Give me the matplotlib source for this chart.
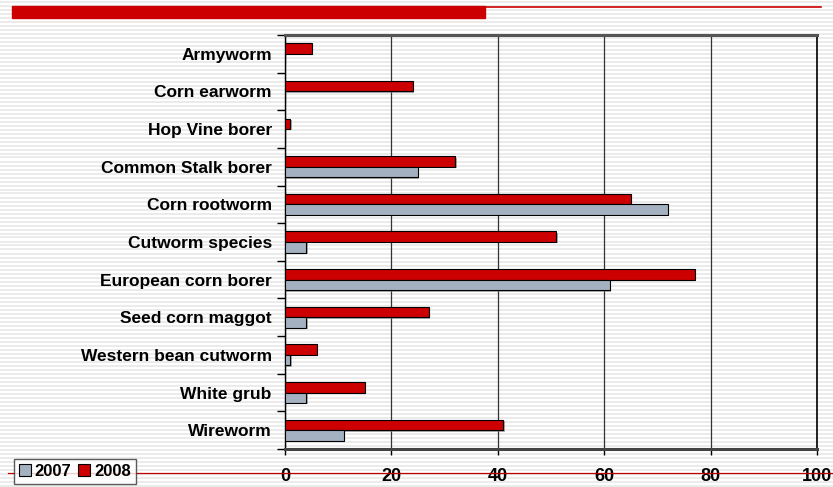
import numpy as np
import matplotlib
matplotlib.use("Agg")
import matplotlib.pyplot as plt
from matplotlib.lines import Line2D
from matplotlib.patches import Rectangle, Patch
import matplotlib.patheffects as pe

plt.rcParams['font.family'] = ['Liberation Sans', 'DejaVu Sans']

pests = ["Armyworm", "Corn earworm", "Hop Vine borer", "Common Stalk borer",
         "Corn rootworm", "Cutworm species", "European corn borer",
         "Seed corn maggot", "Western bean cutworm", "White grub", "Wireworm"]
vals_2007 = [0, 0, 0, 25, 72, 4, 61, 4, 1, 4, 11]
vals_2008 = [5, 24, 1, 32, 65, 51, 77, 27, 6, 15, 41]
xticks = [0, 20, 40, 60, 80, 100]

red = "#cc0000"
grey = "#a3b1c0"

W, H = 833, 487
fig = plt.figure(figsize=(W / 100, H / 100), dpi=100)

# lined-paper background
for k in range(0, H, 4):
    y = 1 - (k + 1.5) / H
    fig.add_artist(Line2D([0, 1], [y, y], transform=fig.transFigure,
                          color="#e6e6e6", lw=1.1, zorder=0))

# slide template decoration
fig.add_artist(Rectangle((12 / W, 1 - 18 / H), (485 - 12) / W, 12 / H,
                         transform=fig.transFigure, color=red, zorder=1))
fig.add_artist(Line2D([485 / W, 821 / W], [1 - 6.5 / H] * 2,
                      transform=fig.transFigure, color=red, lw=1.2, zorder=1))
fig.add_artist(Line2D([8 / W, 1], [1 - 473 / H] * 2,
                      transform=fig.transFigure, color="#c00000", lw=0.9, zorder=1))

ax = fig.add_axes([285 / W, 1 - 449 / H, (817 - 285) / W, (449 - 35) / H])
ax.patch.set_alpha(0)

y = np.arange(len(pests))
h = 0.28
shadow = [pe.SimplePatchShadow(offset=(1, -1), shadow_rgbFace="#777777", alpha=0.6), pe.Normal()]
ax.barh(y - h / 2, vals_2008, height=h, color=red, edgecolor="black", lw=0.8,
        zorder=3, path_effects=shadow)
ax.barh(y + h / 2, vals_2007, height=h, color=grey, edgecolor="black", lw=0.8,
        zorder=3, path_effects=shadow)

ax.set_xlim(0, 100)
ax.set_ylim(len(pests) - 0.5, -0.5)
ax.set_xticks(xticks)
ax.set_xticklabels([str(v) for v in xticks], fontsize=13, fontweight="bold")
ax.tick_params(axis="x", length=4, width=1, color="black", pad=10)
ax.grid(axis="x", color="#333333", lw=0.9, zorder=1)

ax.set_yticks(y)
ax.set_yticklabels(pests, fontsize=12.5, fontweight="bold")
ax.set_yticks(np.arange(len(pests) + 1) - 0.5, minor=True)
ax.tick_params(axis="y", which="major", length=0, pad=9.5)
ax.tick_params(axis="y", which="minor", length=6, width=1, color="black")

ax.spines["top"].set_color("#555555")
ax.spines["top"].set_linewidth(2.2)
ax.spines["bottom"].set_color("#444444")
ax.spines["bottom"].set_linewidth(2.2)
ax.spines["left"].set_linewidth(1)
ax.spines["right"].set_linewidth(1.2)

handles = [Patch(facecolor=grey, edgecolor="black", lw=0.8, label="2007"),
           Patch(facecolor=red, edgecolor="black", lw=0.8, label="2008")]
leg = fig.legend(handles=handles, loc="upper left", bbox_to_anchor=(14 / W, 1 - 459 / H),
                 borderaxespad=0, ncol=2, frameon=True, fancybox=False,
                 handlelength=0.7, handleheight=0.7, handletextpad=0.25,
                 columnspacing=0.4, borderpad=0.3,
                 prop={"weight": "bold", "size": 12})
leg.get_frame().set_edgecolor("#333333")
leg.get_frame().set_linewidth(1)
leg.set_zorder(5)

fig.savefig("out.png", dpi=100)
